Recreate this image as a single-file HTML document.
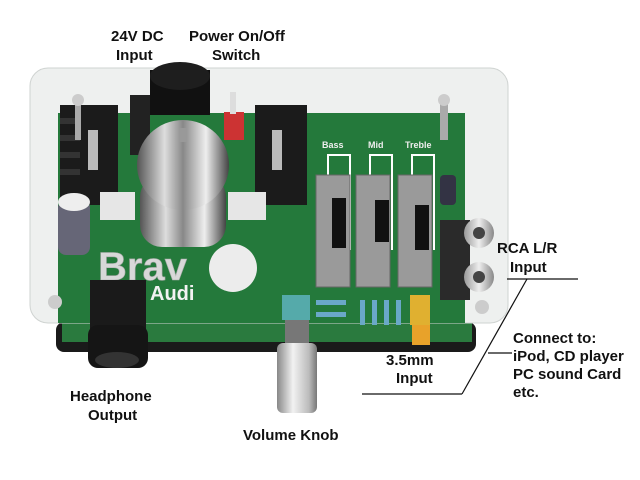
<!DOCTYPE html>
<html><head><meta charset="utf-8"><style>
html,body{margin:0;padding:0;background:#fff;width:640px;height:480px;overflow:hidden}
svg{display:block}
text{font-family:"Liberation Sans",Arial,sans-serif;font-weight:bold;fill:#111}
</style></head><body>
<svg width="640" height="480" viewBox="0 0 640 480" xmlns="http://www.w3.org/2000/svg">
<defs>
<linearGradient id="tube" x1="0" x2="1"><stop offset="0" stop-color="#555"/><stop offset=".3" stop-color="#ddd"/><stop offset=".5" stop-color="#888"/><stop offset=".75" stop-color="#eee"/><stop offset="1" stop-color="#444"/></linearGradient>
<linearGradient id="knob" x1="0" x2="1"><stop offset="0" stop-color="#888"/><stop offset=".4" stop-color="#f2f2f2"/><stop offset=".8" stop-color="#bbb"/><stop offset="1" stop-color="#777"/></linearGradient>
<linearGradient id="rca" x1="0" x2="1"><stop offset="0" stop-color="#999"/><stop offset=".5" stop-color="#eee"/><stop offset="1" stop-color="#888"/></linearGradient>
</defs>
<rect x="56" y="322" width="420" height="30" rx="8" fill="#1a1a1a"/>
<rect x="62" y="322" width="410" height="20" fill="#2a7a3e"/>
<rect x="30" y="68" width="478" height="255" rx="18" fill="#eef0ef" stroke="#cfd3d1"/>
<rect x="58" y="113" width="407" height="210" fill="#24793b"/>
<rect x="60" y="105" width="58" height="100" fill="#1b1b1b"/>
<g fill="#333"><rect x="60" y="118" width="20" height="6"/><rect x="60" y="135" width="20" height="6"/><rect x="60" y="152" width="20" height="6"/><rect x="60" y="169" width="20" height="6"/></g>
<rect x="88" y="130" width="10" height="40" fill="#bbb"/>
<rect x="255" y="105" width="52" height="100" fill="#1b1b1b"/>
<rect x="272" y="130" width="10" height="40" fill="#bbb"/>
<rect x="130" y="95" width="20" height="60" fill="#222"/>
<rect x="150" y="70" width="60" height="45" fill="#111"/>
<ellipse cx="180" cy="76" rx="30" ry="14" fill="#1e1e1e"/>
<rect x="224" y="112" width="20" height="28" fill="#c33"/>
<rect x="230" y="92" width="6" height="22" fill="#ddd"/>
<rect x="100" y="192" width="35" height="28" fill="#e6e6e6"/>
<rect x="228" y="192" width="38" height="28" fill="#e6e6e6"/>
<rect x="140" y="175" width="86" height="72" rx="22" fill="url(#tube)"/>
<ellipse cx="183" cy="165" rx="46" ry="45" fill="url(#tube)"/>
<rect x="179" y="128" width="8" height="14" fill="#999"/>
<rect x="58" y="200" width="32" height="55" rx="8" fill="#667"/>
<ellipse cx="74" cy="202" rx="16" ry="9" fill="#eee"/>
<text x="98" y="280" font-size="40" style="fill:#d8d8d8;stroke:#aaa;stroke-width:.6">Brav</text>
<text x="150" y="300" font-size="20" style="fill:#f2f2f2">Audi</text>
<circle cx="233" cy="268" r="24" fill="#ececec"/>
<!-- sliders -->
<g fill="none" stroke="#fff" stroke-width="2"><polyline points="328,250 328,155 350,155 350,250"/><polyline points="370,250 370,155 392,155 392,250"/><polyline points="412,250 412,155 434,155 434,250"/></g>
<g fill="#9a9a9a" stroke="#666">
<rect x="316" y="175" width="34" height="112"/><rect x="356" y="175" width="34" height="112"/><rect x="398" y="175" width="34" height="112"/></g>
<g fill="#111"><rect x="332" y="198" width="14" height="50"/><rect x="375" y="200" width="14" height="42"/><rect x="415" y="205" width="14" height="45"/></g>
<text x="322" y="148" font-size="9" style="fill:#eee">Bass</text><text x="368" y="148" font-size="9" style="fill:#eee">Mid</text><text x="405" y="148" font-size="9" style="fill:#eee">Treble</text>
<rect x="440" y="175" width="16" height="30" rx="4" fill="#334"/>
<rect x="440" y="220" width="30" height="80" fill="#2a2a2a"/>
<circle cx="479" cy="233" r="15" fill="url(#rca)"/><circle cx="479" cy="233" r="6" fill="#444"/>
<circle cx="479" cy="277" r="15" fill="url(#rca)"/><circle cx="479" cy="277" r="6" fill="#444"/>
<rect x="75" y="100" width="6" height="40" fill="#aaa"/><circle cx="78" cy="100" r="6" fill="#ccc"/>
<rect x="440" y="100" width="8" height="40" fill="#aaa"/><circle cx="444" cy="100" r="6" fill="#ccc"/>
<circle cx="55" cy="302" r="7" fill="#ccc"/><circle cx="482" cy="307" r="7" fill="#ccc"/>
<rect x="282" y="295" width="28" height="25" fill="#5aa"/>
<rect x="285" y="320" width="24" height="25" fill="#777"/>
<rect x="277" y="343" width="40" height="70" rx="6" fill="url(#knob)"/>
<rect x="410" y="295" width="20" height="30" fill="#e0b030"/>
<rect x="412" y="325" width="18" height="20" fill="#e8a22a"/>
<rect x="90" y="280" width="56" height="50" fill="#1a1a1a"/>
<rect x="88" y="325" width="60" height="43" rx="10" fill="#151515"/>
<ellipse cx="117" cy="360" rx="22" ry="8" fill="#333"/>
<g fill="#6aa8c8"><rect x="316" y="300" width="30" height="5"/><rect x="316" y="312" width="30" height="5"/><rect x="360" y="300" width="5" height="25"/><rect x="372" y="300" width="5" height="25"/><rect x="384" y="300" width="5" height="25"/><rect x="396" y="300" width="5" height="25"/></g>
<g stroke="#111" stroke-width="1.2" fill="none">
<line x1="507" y1="279" x2="578" y2="279"/>
<line x1="527" y1="279" x2="462" y2="394"/>
<line x1="362" y1="394" x2="462" y2="394"/>
<line x1="488" y1="353" x2="512" y2="353"/>
</g>
<text x="111" y="41" font-size="15">24V DC</text>
<text x="116" y="60" font-size="15">Input</text>
<text x="189" y="41" font-size="15">Power On/Off</text>
<text x="212" y="60" font-size="15">Switch</text>
<text x="497" y="253" font-size="15">RCA L/R</text>
<text x="510" y="272" font-size="15">Input</text>
<text x="513" y="343" font-size="15">Connect to:</text>
<text x="513" y="361" font-size="15">iPod, CD player</text>
<text x="513" y="379" font-size="15">PC sound Card</text>
<text x="513" y="397" font-size="15">etc.</text>
<text x="386" y="365" font-size="15">3.5mm</text>
<text x="396" y="383" font-size="15">Input</text>
<text x="70" y="401" font-size="15">Headphone</text>
<text x="88" y="420" font-size="15">Output</text>
<text x="243" y="440" font-size="15">Volume Knob</text>
</svg>
</body></html>
